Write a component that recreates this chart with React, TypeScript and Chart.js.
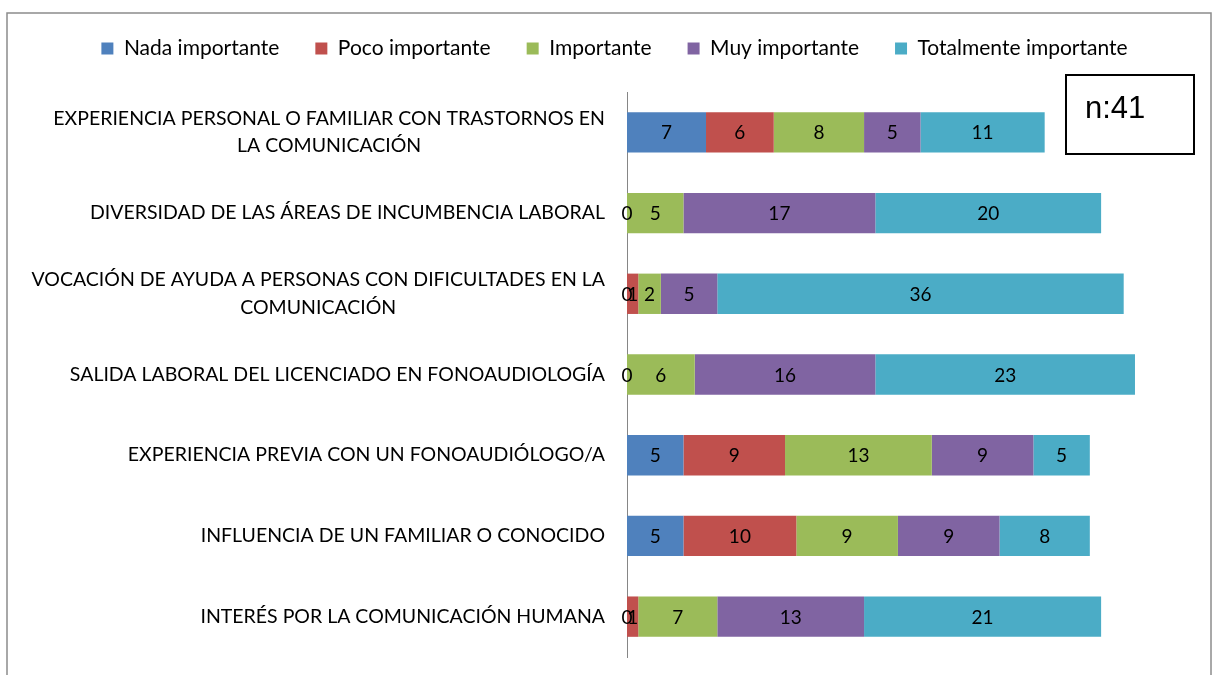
import React, { useEffect, useRef } from "react";
import { Chart, registerables } from "chart.js";

Chart.register(...registerables);

const categories: (string | string[])[] = [
  ["EXPERIENCIA PERSONAL O FAMILIAR CON TRASTORNOS EN", "LA COMUNICACIÓN"],
  "DIVERSIDAD DE LAS ÁREAS DE INCUMBENCIA LABORAL",
  ["VOCACIÓN DE AYUDA A PERSONAS CON DIFICULTADES EN LA", "COMUNICACIÓN"],
  "SALIDA LABORAL DEL LICENCIADO EN FONOAUDIOLOGÍA",
  "EXPERIENCIA PREVIA CON UN FONOAUDIÓLOGO/A",
  "INFLUENCIA DE UN FAMILIAR O CONOCIDO",
  "INTERÉS POR LA COMUNICACIÓN HUMANA",
];

const nadaImportante = [7, 0, 0, 0, 5, 5, 0];
const pocoImportante = [6, null, 1, null, 9, 10, 1];
const importante = [8, 5, 2, 6, 13, 9, 7];
const muyImportante = [5, 17, 5, 16, 9, 9, 13];
const totalmenteImportante = [11, 20, 36, 23, 5, 8, 21];

const seriesNames = [
  "Nada importante",
  "Poco importante",
  "Importante",
  "Muy importante",
  "Totalmente importante",
];
const seriesColors = ["#4F81BD", "#C0504D", "#9BBB59", "#8064A2", "#4BACC6"];
const sampleNote = "n:41";

const FONT = "Lato, 'Open Sans', sans-serif";
const LABEL_SIZE = 19.5;
const LABEL_LINE = 27.5;
const LABEL_PAD = 22;

const frameAndNote = {
  id: "frameAndNote",
  afterInit(chart: any) {
    const lg = chart.legend;
    if (lg && !lg.__patched) {
      const orig = lg.fit.bind(lg);
      lg.fit = function () {
        orig();
        this.height = 90;
      };
      lg.__patched = true;
    }
  },
  beforeDraw(chart: any) {
    const ctx = chart.ctx;
    ctx.save();
    ctx.fillStyle = "#ffffff";
    ctx.fillRect(0, 0, chart.width, chart.height);
    ctx.strokeStyle = "#8c8c8c";
    ctx.lineWidth = 1.5;
    ctx.strokeRect(7, 13, 1204, 720);
    ctx.restore();
  },
  afterDraw(chart: any) {
    const ctx = chart.ctx;
    ctx.save();
    // category labels: block right-aligned, lines centred within block
    const yScale = chart.scales.y;
    ctx.font = `${LABEL_SIZE}px ${FONT}`;
    ctx.fillStyle = "#000000";
    ctx.textAlign = "center";
    ctx.textBaseline = "middle";
    const right = yScale.right - LABEL_PAD;
    (chart.data.labels as any[]).forEach((lab: any, i: number) => {
      const lines: string[] = Array.isArray(lab) ? lab : [lab];
      const w = Math.max(...lines.map((l) => ctx.measureText(l).width));
      const cx = right - w / 2;
      const cy = yScale.getPixelForTick(i);
      const y0 = cy - ((lines.length - 1) * LABEL_LINE) / 2;
      lines.forEach((l, k) => ctx.fillText(l, cx, y0 + k * LABEL_LINE));
    });
    // n box
    ctx.strokeStyle = "#000000";
    ctx.lineWidth = 2;
    ctx.strokeRect(1066, 75, 128, 79);
    ctx.font = "31px 'Liberation Sans', Arial, sans-serif";
    ctx.textAlign = "left";
    ctx.textBaseline = "alphabetic";
    ctx.fillText(sampleNote, 1085, 118);
    ctx.restore();
  },
};

const valueLabels = {
  id: "valueLabels",
  afterDatasetsDraw(chart: any) {
    const ctx = chart.ctx;
    ctx.save();
    ctx.font = `19px ${FONT}`;
    ctx.fillStyle = "#000000";
    ctx.textAlign = "center";
    ctx.textBaseline = "middle";
    chart.data.datasets.forEach((ds: any, di: number) => {
      const meta = chart.getDatasetMeta(di);
      meta.data.forEach((el: any, i: number) => {
        const v = ds.data[i];
        if (v === null || v === undefined) return;
        const p = el.getProps(["x", "y", "base"], true);
        ctx.fillText(String(v), (p.x + p.base) / 2, p.y + 1);
      });
    });
    ctx.restore();
  },
};

export default function App() {
  const ref = useRef<HTMLCanvasElement | null>(null);
  useEffect(() => {
    document.body.style.margin = "0";
    if (!ref.current) return;
    const allSeries = [
      nadaImportante,
      pocoImportante,
      importante,
      muyImportante,
      totalmenteImportante,
    ];
    const chart = new Chart(ref.current, {
      type: "bar",
      data: {
        labels: categories,
        datasets: allSeries.map((d, i) => ({
          label: seriesNames[i],
          data: d as any,
          backgroundColor: seriesColors[i],
          borderWidth: 0,
          barPercentage: 0.5,
          categoryPercentage: 1,
        })),
      },
      options: {
        indexAxis: "y",
        responsive: false,
        animation: false,
        devicePixelRatio: 1,
        layout: { padding: { left: 15, right: 0, top: 2, bottom: 18 } },
        plugins: {
          legend: {
            position: "top",
            labels: {
              boxWidth: 12,
              boxHeight: 12,
              padding: 36,
              color: "#000000",
              font: { family: FONT, size: 21 },
            },
          },
          tooltip: { enabled: false },
        },
        scales: {
          x: {
            stacked: true,
            display: false,
            min: 0,
            max: 52,
          },
          y: {
            stacked: true,
            grid: { display: false, drawTicks: false },
            border: { display: true, color: "#868686", width: 1 },
            ticks: {
              display: false,
              font: { family: FONT, size: LABEL_SIZE },
            },
            afterFit(scale: any) {
              scale.width = 612;
              scale.paddingTop = 0;
              scale.paddingBottom = 0;
            },
          },
        },
      },
      plugins: [frameAndNote, valueLabels],
    });
    return () => chart.destroy();
  }, []);
  return <canvas ref={ref} width={1214} height={675} style={{ display: "block" }} />;
}
